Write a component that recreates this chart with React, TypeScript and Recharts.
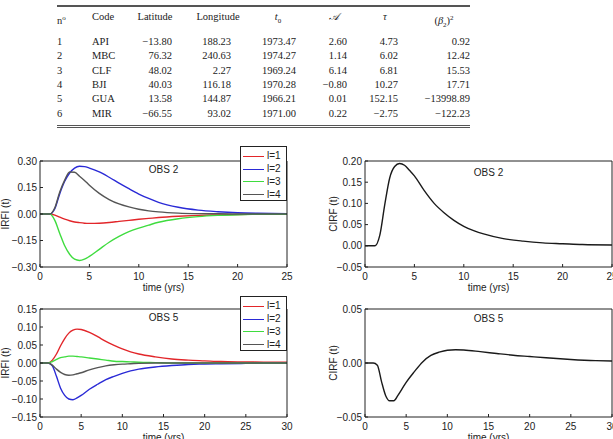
import React from "react";
import { LineChart, Line, XAxis, YAxis, Legend } from "recharts";

// table values
const stationNo = [1, 2, 3, 4, 5, 6];
const stationCode = ["API", "MBC", "CLF", "BJI", "GUA", "MIR"];
const latitude = [-13.8, 76.32, 48.02, 40.03, 13.58, -66.55];
const longitude = [188.23, 240.63, 2.27, 116.18, 144.87, 93.02];
const t0 = [1973.47, 1974.27, 1969.24, 1970.28, 1966.21, 1971.0];
const amplitude = [2.6, 1.14, 6.14, -0.8, 0.01, 0.22];
const tau = [4.73, 6.02, 6.81, 10.27, 152.15, -2.75];
const beta2sq = [0.92, 12.42, 15.53, 17.71, -13998.89, -122.23];

// OBS 2
const obs2Time = [0, 0.5, 1, 1.5, 2, 2.5, 3, 3.5, 4, 4.5, 5, 6, 7, 8, 9, 10, 11, 12, 14, 16, 18, 20, 22, 25];
const obs2L1 = [0, 0, 0, -0.006, -0.018, -0.029, -0.038, -0.045, -0.049, -0.052, -0.053, -0.052, -0.048, -0.042, -0.036, -0.03, -0.025, -0.02, -0.013, -0.008, -0.005, -0.003, -0.002, -0.001];
const obs2L2 = [0, 0, 0, 0.03, 0.115, 0.185, 0.232, 0.26, 0.27, 0.268, 0.26, 0.238, 0.208, 0.175, 0.143, 0.113, 0.088, 0.066, 0.038, 0.022, 0.013, 0.007, 0.004, 0.002];
const obs2L3 = [0, 0, 0, -0.036, -0.11, -0.18, -0.228, -0.256, -0.263, -0.256, -0.24, -0.2, -0.16, -0.127, -0.1, -0.08, -0.063, -0.047, -0.027, -0.015, -0.008, -0.004, -0.002, -0.001];
const obs2L4 = [0, 0, 0, 0.035, 0.125, 0.192, 0.238, 0.236, 0.214, 0.19, 0.163, 0.117, 0.082, 0.057, 0.04, 0.027, 0.018, 0.012, 0.005, 0.002, 0.001, 0, 0, 0];
const obs2Cirf = [0, 0, 0, 0.025, 0.097, 0.16, 0.187, 0.194, 0.19, 0.178, 0.165, 0.13, 0.1, 0.078, 0.06, 0.046, 0.036, 0.028, 0.017, 0.011, 0.007, 0.005, 0.003, 0.002];

// OBS 5
const obs5Time = [0, 0.5, 1, 1.5, 2, 2.5, 3, 3.5, 4, 4.5, 5, 6, 7, 8, 9, 10, 11, 12, 14, 16, 18, 20, 22, 25, 28, 30];
const obs5L1 = [0, 0, 0, 0.008, 0.025, 0.048, 0.068, 0.083, 0.091, 0.094, 0.093, 0.085, 0.073, 0.06, 0.049, 0.039, 0.031, 0.025, 0.017, 0.011, 0.008, 0.006, 0.004, 0.003, 0.002, 0.002];
const obs5L2 = [0, 0, 0, -0.008, -0.037, -0.07, -0.09, -0.1, -0.102, -0.097, -0.09, -0.073, -0.059, -0.046, -0.037, -0.029, -0.022, -0.017, -0.011, -0.007, -0.004, -0.003, -0.002, -0.001, 0, 0];
const obs5L3 = [0, 0, 0, 0.004, 0.01, 0.015, 0.017, 0.019, 0.019, 0.018, 0.017, 0.014, 0.011, 0.008, 0.005, 0.004, 0.003, 0.002, 0.001, 0, 0, 0, 0, 0, 0, 0];
const obs5L4 = [0, 0, 0, -0.006, -0.017, -0.026, -0.032, -0.034, -0.033, -0.03, -0.027, -0.019, -0.013, -0.008, -0.005, -0.003, -0.002, -0.001, 0, 0, 0, 0, 0, 0, 0, 0];
const obs5Cirf = [0, 0, 0, -0.002, -0.017, -0.03, -0.035, -0.035, -0.03, -0.024, -0.018, -0.008, 0.001, 0.007, 0.01, 0.0118, 0.0122, 0.012, 0.0105, 0.0088, 0.0072, 0.006, 0.0048, 0.0033, 0.0022, 0.0018];

const ticks25 = [0, 5, 10, 15, 20, 25];
const ticks30 = [0, 5, 10, 15, 20, 25, 30];
const irf2Ticks = [-0.3, -0.15, 0, 0.15, 0.3];
const cirf2Ticks = [-0.05, 0, 0.05, 0.1, 0.15, 0.2];
const irf5Ticks = [-0.15, -0.1, -0.05, 0, 0.05, 0.1, 0.15];
const cirf5Ticks = [-0.05, 0, 0.05];

const seriesNames = ["l=1", "l=2", "l=3", "l=4"];
const seriesColors = ["#e2262a", "#2a2ad6", "#3fdc3f", "#555555"];

const obs2Irf = obs2Time.map((t, i) => ({ t, l1: obs2L1[i], l2: obs2L2[i], l3: obs2L3[i], l4: obs2L4[i] }));
const obs2C = obs2Time.map((t, i) => ({ t, c: obs2Cirf[i] }));
const obs5Irf = obs5Time.map((t, i) => ({ t, l1: obs5L1[i], l2: obs5L2[i], l3: obs5L3[i], l4: obs5L4[i] }));
const obs5C = obs5Time.map((t, i) => ({ t, c: obs5Cirf[i] }));

const FONT = "'Liberation Sans', Arial, Helvetica, sans-serif";
const AXIS = "#222";
const tickStyle = { fontSize: 10, fill: "#222", fontFamily: FONT };
const fmt = (v: number) => v.toFixed(2).replace("-", "\u2212");

const LegendBox = (props: any) => {
  const items = (props.payload || []).filter((it: any) => it.type !== "none");
  return (
    <div
      style={{
        width: 47,
        height: 55,
        boxSizing: "border-box",
        border: "1px solid #222",
        background: "#fff",
        paddingTop: 3,
        fontFamily: FONT,
        fontSize: 10,
        color: "#222",
      }}
    >
      {items.map((it: any) => (
        <div key={it.value} style={{ display: "flex", alignItems: "center", height: 12.8 }}>
          <span style={{ display: "inline-block", width: 21, marginLeft: 2, borderTop: `1.5px solid ${it.color}` }} />
          <span style={{ marginLeft: 3, lineHeight: "12px" }}>{it.value}</span>
        </div>
      ))}
    </div>
  );
};

interface PanelProps {
  left: number;
  top: number;
  width: number;
  axisWidth: number;
  marginTop: number;
  marginRight: number;
  data: any[];
  keys: string[];
  colors: string[];
  names: string[];
  xMax: number;
  xTicks: number[];
  yTicks: number[];
  yLabel: string;
  yLabelOffset: number;
  title: string;
  titleOffset: number;
  legend: boolean;
}

const Panel = (p: PanelProps) => {
  const yDomain = [p.yTicks[0], p.yTicks[p.yTicks.length - 1]];
  return (
    <div style={{ position: "absolute", left: p.left, top: p.top }}>
      <LineChart
        width={p.width}
        height={160}
        data={p.data}
        margin={{ top: p.marginTop - 1, right: p.marginRight - 1, bottom: 3, left: 0 }}
      >
        <XAxis
          dataKey="t"
          type="number"
          domain={[0, p.xMax]}
          ticks={p.xTicks}
          interval={0}
          allowDataOverflow
          height={30}
          stroke={AXIS}
          tickSize={-3}
          tickMargin={9}
          tick={tickStyle}
          label={{ value: "time (yrs)", position: "insideBottom", offset: 6, style: { fontSize: 10, fill: "#222", fontFamily: FONT } }}
        />
        <XAxis
          xAxisId="top"
          orientation="top"
          dataKey="t"
          type="number"
          domain={[0, p.xMax]}
          ticks={p.xTicks}
          interval={0}
          allowDataOverflow
          height={1}
          stroke={AXIS}
          tickSize={-3}
          tick={false}
          label={{ value: p.title, position: "bottom", offset: p.titleOffset, style: { fontSize: 10, fill: "#222", fontFamily: FONT } }}
        />
        <YAxis
          type="number"
          domain={yDomain}
          ticks={p.yTicks}
          interval={0}
          allowDataOverflow
          width={p.axisWidth}
          stroke={AXIS}
          tickSize={-3}
          tickMargin={6}
          tick={tickStyle}
          tickFormatter={fmt}
          label={{ value: p.yLabel, angle: -90, position: "insideLeft", offset: p.yLabelOffset, style: { fontSize: 10, fill: "#222", fontFamily: FONT, textAnchor: "middle" } }}
        />
        <YAxis
          yAxisId="right"
          orientation="right"
          type="number"
          domain={yDomain}
          ticks={p.yTicks}
          interval={0}
          allowDataOverflow
          width={1}
          stroke={AXIS}
          tickSize={-3}
          tick={false}
        />
        {p.legend && (
          <Legend
            layout="vertical"
            align="center"
            verticalAlign="middle"
            content={LegendBox}
            wrapperStyle={{ left: 240, top: 6, width: 47, height: 55 }}
          />
        )}
        {/* invisible series so the top / right frame axes get a domain */}
        <Line
          xAxisId="top"
          yAxisId="right"
          dataKey={p.keys[0]}
          stroke="none"
          dot={false}
          activeDot={false}
          legendType="none"
          isAnimationActive={false}
        />
        {p.keys.map((k, i) => (
          <Line
            key={k}
            dataKey={k}
            name={p.names[i]}
            type="monotone"
            stroke={p.colors[i]}
            strokeWidth={1.4}
            dot={false}
            isAnimationActive={false}
          />
        ))}
      </LineChart>
    </div>
  );
};

const colRight = [0, 0, 172, 231, 296, 347, 398, 470];
const headCenter = [0, 0, 155, 218, 278, 334, 385, 444];
const rowY = [42, 56.3, 70.6, 85, 99.3, 113.7];

const cell = (content: React.ReactNode, x: number, y: number, align: "left" | "right" | "center", key: string) => {
  const w = 80;
  const left = align === "left" ? x : align === "right" ? x - w : x - w / 2;
  return (
    <div
      key={key}
      style={{ position: "absolute", left, top: y - 7, width: w, height: 14, lineHeight: "14px", textAlign: align, whiteSpace: "nowrap" }}
    >
      {content}
    </div>
  );
};

const Table = () => {
  const cols = [latitude, longitude, t0, amplitude, tau, beta2sq];
  const headers: React.ReactNode[] = [
    "Latitude",
    "Longitude",
    <span><i>t</i><sub style={{ fontSize: 7 }}>0</sub></span>,
    <i>𝒜</i>,
    <i>τ</i>,
    <span>(<i>β</i><sub style={{ fontSize: 7 }}>2</sub>)<sup style={{ fontSize: 7 }}>2</sup></span>,
  ];
  return (
    <div style={{ position: "absolute", left: 0, top: 0, width: 613, height: 135, fontFamily: "'Liberation Serif', 'Times New Roman', serif", fontSize: 10.5, color: "#222" }}>
      <div style={{ position: "absolute", left: 57, top: 5, width: 413, height: 0, borderTop: "2px solid #555" }} />
      {cell(<span>n<sup style={{ fontSize: 7 }}>o</sup></span>, 57, 17, "left", "h0")}
      {cell("Code", 92, 17, "left", "h1")}
      {headers.map((h, i) => cell(h, headCenter[i + 2], 17, "center", `h${i + 2}`))}
      {stationNo.map((n, r) => (
        <React.Fragment key={n}>
          {cell(String(n), 57, rowY[r], "left", `n${r}`)}
          {cell(stationCode[r], 92, rowY[r], "left", `c${r}`)}
          {cols.map((col, c) => cell(fmt(col[r]), colRight[c + 2], rowY[r], "right", `v${r}-${c}`))}
        </React.Fragment>
      ))}
      <div style={{ position: "absolute", left: 57, top: 124.5, width: 413, height: 1, borderTop: "1px solid #555", borderBottom: "1px solid #555" }} />
    </div>
  );
};

const App = () => {
  return (
    <div style={{ position: "absolute", left: 0, top: 0, width: 613, height: 439, overflow: "hidden", background: "#fff" }}>
      <Table />
      <Panel
        left={0} top={140} width={300} axisWidth={40} marginTop={21} marginRight={13}
        data={obs2Irf} keys={["l1", "l2", "l3", "l4"]} colors={seriesColors} names={seriesNames}
        xMax={25} xTicks={ticks25} yTicks={irf2Ticks} yLabel="IRFI (t)" yLabelOffset={5} title="OBS 2" titleOffset={5} legend
      />
      <Panel
        left={310} top={140} width={320} axisWidth={55} marginTop={21} marginRight={18}
        data={obs2C} keys={["c"]} colors={["#1a1a1a"]} names={["CIRF"]}
        xMax={25} xTicks={ticks25} yTicks={cirf2Ticks} yLabel="CIRF (t)" yLabelOffset={23} title="OBS 2" titleOffset={8} legend={false}
      />
      <Panel
        left={0} top={290} width={300} axisWidth={40} marginTop={19} marginRight={13}
        data={obs5Irf} keys={["l1", "l2", "l3", "l4"]} colors={seriesColors} names={seriesNames}
        xMax={30} xTicks={ticks30} yTicks={irf5Ticks} yLabel="IRFI (t)" yLabelOffset={5} title="OBS 5" titleOffset={5} legend
      />
      <Panel
        left={310} top={290} width={320} axisWidth={55} marginTop={19} marginRight={18}
        data={obs5C} keys={["c"]} colors={["#1a1a1a"]} names={["CIRF"]}
        xMax={30} xTicks={ticks30} yTicks={cirf5Ticks} yLabel="CIRF (t)" yLabelOffset={23} title="OBS 5" titleOffset={6} legend={false}
      />
    </div>
  );
};

export default App;
